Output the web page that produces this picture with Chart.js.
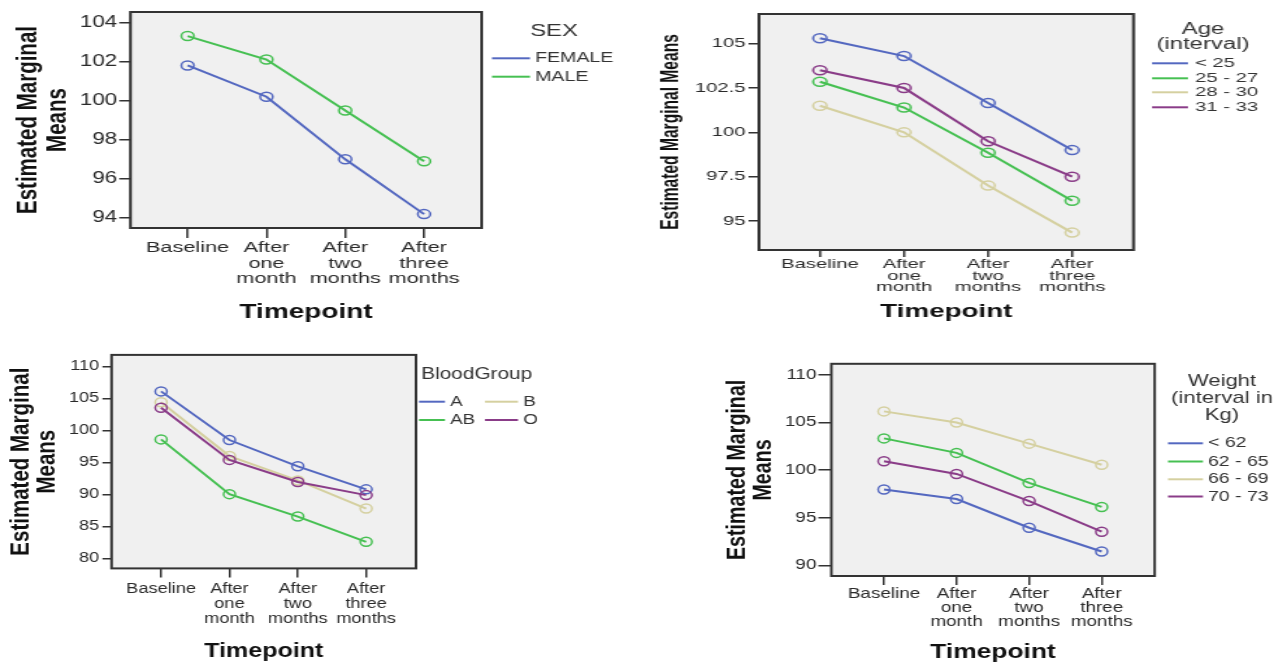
<!DOCTYPE html>
<html><head><meta charset="utf-8">
<script src="https://cdn.jsdelivr.net/npm/chart.js@4.4.1/dist/chart.umd.min.js"></script>
<style>
html,body{margin:0;padding:0;background:#fff;width:1282px;height:667px;overflow:hidden}
canvas{position:absolute;left:0;top:0;transform-origin:0 0}
</style></head><body>
<canvas id="c1"></canvas><canvas id="c2"></canvas><canvas id="c3"></canvas><canvas id="c4"></canvas>
<script>
// ---------- data ----------
const timepoints = [["Baseline"], ["After","one","month"], ["After","two","months"], ["After","three","months"]];

const sexLabels = ["FEMALE", "MALE"];
const sexFemale = [101.8, 100.2, 97.0, 94.2];
const sexMale   = [103.3, 102.1, 99.5, 96.9];
const sexTicks  = [94, 96, 98, 100, 102, 104];

const ageLabels = ["< 25", "25 - 27", "28 - 30", "31 - 33"];
const ageLt25   = [105.3, 104.3, 101.65, 99.0];
const age25to27 = [102.85, 101.4, 98.85, 96.15];
const age28to30 = [101.5, 100.0, 97.0, 94.35];
const age31to33 = [103.5, 102.5, 99.5, 97.5];
const ageTicks  = [95, 97.5, 100, 102.5, 105];

const bgLabels = ["A", "AB", "B", "O"];
const bgA  = [106.1, 98.5, 94.4, 90.8];
const bgAB = [98.6, 90.05, 86.55, 82.6];
const bgB  = [104.4, 96.0, 92.2, 87.8];
const bgO  = [103.55, 95.4, 91.95, 89.9];
const bgTicks = [80, 85, 90, 95, 100, 105, 110];

const wtLabels = ["< 62", "62 - 65", "66 - 69", "70 - 73"];
const wtLt62   = [97.96, 96.96, 93.95, 91.46];
const wt62to65 = [103.32, 101.8, 98.65, 96.13];
const wt66to69 = [106.15, 104.98, 102.77, 100.56];
const wt70to73 = [100.93, 99.59, 96.75, 93.53];
const wtTicks  = [90, 95, 100, 105, 110];

// ---------- style ----------
const BLUE = '#5468c0', GREEN = '#46c052', BEIGE = '#d5d0a0', PURPLE = '#8a3c88';
const FAM = '"Liberation Sans", Arial, sans-serif';
const NARROW = (function(){
  const c = document.createElement('canvas').getContext('2d');
  c.font = 'bold 100px "Liberation Sans Narrow"'; const a = c.measureText('Estimated Marginal').width;
  c.font = 'bold 100px "Liberation Sans"'; const b = c.measureText('Estimated Marginal').width;
  return a < b * 0.9;
})();
const YT_FAM = NARROW ? '"Liberation Sans Narrow", "Liberation Sans", sans-serif' : FAM;
const YT_K = NARROW ? 1 : 0.82;

const framePlugin = {
  id: 'frame',
  beforeDraw(chart) {
    const a = chart.chartArea, c = chart.ctx;
    c.save(); c.fillStyle = '#f0f0f0';
    c.fillRect(a.left, a.top, a.right - a.left, a.bottom - a.top); c.restore();
  },
  beforeDatasetsDraw(chart) {
    const a = chart.chartArea, c = chart.ctx;
    c.save(); c.strokeStyle = '#333'; c.lineWidth = 2;
    c.strokeRect(a.left, a.top, a.right - a.left, a.bottom - a.top); c.restore();
  }
};

function legendPlugin(spec, s) {
  return {
    id: 'spssLegend',
    afterDraw(chart) {
      const c = chart.ctx;
      c.save(); c.fillStyle = '#333'; c.textBaseline = 'middle';
      c.textAlign = 'center'; c.font = spec.titleFont;
      spec.title.forEach((t, i) => c.fillText(t, spec.titleX / s, spec.titleY + i * spec.titleLH));
      c.font = spec.itemFont; c.textAlign = 'left';
      chart.data.datasets.forEach((ds, i) => {
        const it = spec.items[i];
        c.strokeStyle = ds.borderColor; c.lineWidth = 2;
        c.beginPath(); c.moveTo(it[0] / s, it[3]); c.lineTo(it[1] / s, it[3]); c.stroke();
        c.fillText(ds.label, it[2] / s, it[3]);
      });
      c.restore();
    }
  };
}

function ds(label, values, color, n, i) {
  return {
    label, data: values.map((v, k) => ({x: k, y: v})),
    borderColor: color, backgroundColor: 'transparent', borderWidth: 2,
    pointRadius: 4.5, pointBorderWidth: 1.5, pointBackgroundColor: 'transparent',
    pointBorderColor: color, tension: 0, order: n - i
  };
}

function makeChart(id, p) {
  const cv = document.getElementById(id);
  cv.width = p.W; cv.height = 667;
  cv.style.transform = 'scaleX(' + p.s + ')';
  const gridOpt = (tl) => ({display: true, drawOnChartArea: false, drawTicks: true, tickLength: tl,
    tickColor: '#333', tickWidth: 1.5, lineWidth: 1.5, color: '#333'});
  new Chart(cv, {
    type: 'line',
    data: {datasets: p.datasets.map((d, i) => ds(d[0], d[1], d[2], p.datasets.length, i))},
    options: {
      responsive: false, animation: false, devicePixelRatio: 1,
      layout: {padding: p.pad},
      plugins: {legend: {display: false}, tooltip: {enabled: false}},
      scales: {
        x: {
          type: 'linear', min: -0.725, max: 3.73,
          afterBuildTicks: ax => { ax.ticks = timepoints.map((_, i) => ({value: i})); },
          afterFit: ax => { ax.height = p.xH; },
          grid: gridOpt(p.xtl), border: {display: false},
          ticks: {autoSkip: false, maxRotation: 0, minRotation: 0, padding: p.xpad, color: '#2a2a2a',
            font: {family: FAM, size: p.xfs, lineHeight: p.xlh / p.xfs}, callback: v => timepoints[v]},
          title: {display: true, text: 'Timepoint', color: '#111', padding: 0,
            font: {family: FAM, size: p.tfs, weight: 'bold', lineHeight: 1.2}}
        },
        y: {
          type: 'linear', min: p.yMin, max: p.yMax,
          afterBuildTicks: ax => { ax.ticks = p.yTicks.map(v => ({value: v})); },
          afterFit: ax => { ax.width = p.yW; },
          grid: gridOpt(p.ytl), border: {display: false},
          ticks: {padding: p.ypad, color: '#2a2a2a', font: {family: FAM, size: p.yfs}, callback: v => String(v)},
          title: {display: true, text: p.yTitle, color: '#111', padding: 0,
            font: {family: YT_FAM, size: p.ytfs * YT_K, weight: 'bold', lineHeight: p.ylh / (p.ytfs * YT_K)}}
        }
      }
    },
    plugins: [framePlugin, legendPlugin(p.legend, p.s)]
  });
}

makeChart('c1', {
  s: 1.4, W: 916, pad: {left: 9.3, top: 12, right: 572, bottom: 343}, yW: 83.9, xH: 96,
  ytl: 8, ypad: 1.5, xtl: 10, xpad: 2, yfs: 16, xfs: 15.5, xlh: 15.5, tfs: 20,
  yTitle: ["Estimated Marginal", "Means"], ytfs: 25, ylh: 21.4,
  yMin: 93.49, yMax: 104.53, yTicks: sexTicks,
  datasets: [[sexLabels[0], sexFemale, BLUE], [sexLabels[1], sexMale, GREEN]],
  legend: {title: ["SEX"], titleX: 554, titleY: 31.7, titleLH: 16, titleFont: '17px ' + FAM,
    itemFont: '14px ' + FAM, items: [[492, 530, 535, 58.3], [492, 530, 535, 76.7]]}
});

makeChart('c2', {
  s: 1.5, W: 855, pad: {left: 436.5, top: 14, right: 99.3, bottom: 343.9}, yW: 69.5, xH: 73.1,
  ytl: 7, ypad: 2, xtl: 7, xpad: 2, yfs: 13.5, xfs: 13.5, xlh: 11.5, tfs: 18.5,
  yTitle: "Estimated Marginal Means", ytfs: 19, ylh: 21.6,
  yMin: 93.37, yMax: 106.67, yTicks: ageTicks,
  datasets: [[ageLabels[0], ageLt25, BLUE], [ageLabels[1], age25to27, GREEN],
             [ageLabels[2], age28to30, BEIGE], [ageLabels[3], age31to33, PURPLE]],
  legend: {title: ["Age", "(interval)"], titleX: 1203, titleY: 29.3, titleLH: 15.7, titleFont: '16px ' + FAM,
    itemFont: '13.5px ' + FAM,
    items: [[1152, 1188, 1195, 63.3], [1152, 1188, 1195, 78.3], [1152, 1188, 1195, 92.3], [1152, 1188, 1195, 107.3]]}
});

makeChart('c3', {
  s: 1.3, W: 987, pad: {left: 6.4, top: 354.9, right: 667, bottom: 3.4}, yW: 79.4, xH: 95.2,
  ytl: 7, ypad: 2.5, xtl: 9, xpad: 4, yfs: 14, xfs: 14, xlh: 15, tfs: 19.3,
  yTitle: ["Estimated Marginal", "Means"], ytfs: 25, ylh: 20,
  yMin: 78.45, yMax: 111.8, yTicks: bgTicks,
  datasets: [[bgLabels[0], bgA, BLUE], [bgLabels[1], bgAB, GREEN], [bgLabels[2], bgB, BEIGE], [bgLabels[3], bgO, PURPLE]],
  legend: {title: ["BloodGroup"], titleX: 476.7, titleY: 375, titleLH: 16, titleFont: '16px ' + FAM,
    itemFont: '14.5px ' + FAM,
    items: [[419, 445, 450, 401.7], [419, 445, 450, 420], [485, 518, 523.3, 401.7], [485, 518, 523.3, 420]]}
});

makeChart('c4', {
  s: 1.3, W: 987, pad: {left: 557, top: 363.8, right: 98.8, bottom: 2.8}, yW: 82.5, xH: 88.2,
  ytl: 10, ypad: 1.5, xtl: 9, xpad: 2, yfs: 14.5, xfs: 14.5, xlh: 14, tfs: 20.3,
  yTitle: ["Estimated Marginal", "Means"], ytfs: 24, ylh: 20.5,
  yMin: 88.89, yMax: 111.14, yTicks: wtTicks,
  datasets: [[wtLabels[0], wtLt62, BLUE], [wtLabels[1], wt62to65, GREEN],
             [wtLabels[2], wt66to69, BEIGE], [wtLabels[3], wt70to73, PURPLE]],
  legend: {title: ["Weight", "(interval in", "Kg)"], titleX: 1222, titleY: 381, titleLH: 17, titleFont: '17px ' + FAM,
    itemFont: '15px ' + FAM,
    items: [[1168, 1203, 1208, 443.3], [1168, 1203, 1208, 461.5], [1168, 1203, 1208, 479.3], [1168, 1203, 1208, 496.5]]}
});
</script>
</body></html>
